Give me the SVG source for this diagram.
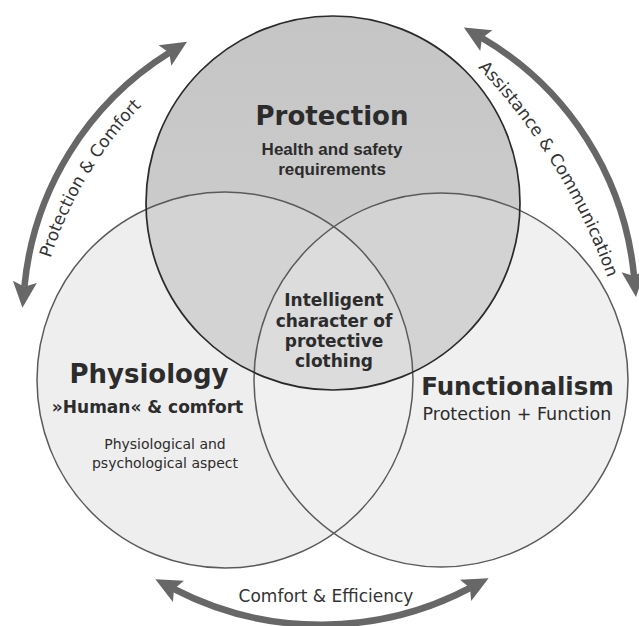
<svg xmlns="http://www.w3.org/2000/svg" width="639" height="626" viewBox="0 0 639 626">
<defs>
<linearGradient id="gTop" x1="0" y1="0" x2="0" y2="1"><stop offset="0" stop-color="#c5c5c5"/><stop offset="1" stop-color="#d0d0d0"/></linearGradient>
<clipPath id="cL"><circle cx="225" cy="380" r="188"/></clipPath>
<clipPath id="cR"><circle cx="441" cy="380" r="187"/></clipPath>
<clipPath id="cT"><circle cx="333" cy="203" r="187"/></clipPath>
<marker id="ah" markerUnits="userSpaceOnUse" markerWidth="30" markerHeight="26" refX="5" refY="12" orient="auto-start-reverse" overflow="visible"><path d="M0,0 L26,12 L0,24 L5,12 Z" fill="#676767"/></marker>
<path id="tpL" d="M35,334 A383,383 0 0 1 201,56.2"/>
<path id="tpR" d="M413.3,8.2 A608,608 0 0 1 631.5,362.2"/>
</defs>
<style>
.arrow{fill:none;stroke:#676767;stroke-width:6.5;marker-start:url(#ah);marker-end:url(#ah)}
.t{font-family:"DejaVu Sans",Verdana,sans-serif;fill:#2c2c2c;text-anchor:middle}
.a{font-family:"Liberation Sans",Arial,sans-serif;fill:#2c2c2c;text-anchor:middle;font-weight:bold}
.b{font-weight:bold}
.ring{fill:none;stroke:#5a5a5a;stroke-width:1.5}
.lbl{font-family:"DejaVu Sans",Verdana,sans-serif;fill:#333;font-size:17px}
</style>
<rect width="639" height="626" fill="#ffffff"/>

<g id="physiology">
<circle cx="225" cy="380" r="188" fill="#eeeeee" stroke="#5a5a5a" stroke-width="1.5"/>
<text class="t b" x="149" y="383" font-size="26">Physiology</text>
<text class="t b" x="147.5" y="413" font-size="17">»Human« &amp; comfort</text>
<text class="t" x="165" y="449" font-size="14">Physiological and</text>
<text class="t" x="165" y="468" font-size="14">psychological aspect</text>
</g>

<g id="functionalism">
<circle cx="441" cy="380" r="187" fill="#f0f0f0" stroke="#5a5a5a" stroke-width="1.5"/>
<circle class="ring" cx="225" cy="380" r="188" clip-path="url(#cR)"/>
<text class="t b" x="517.5" y="395" font-size="24.5">Functionalism</text>
<text class="t" x="517" y="420" font-size="17.5">Protection + Function</text>
</g>

<g id="protection">
<circle cx="333" cy="203" r="187" fill="url(#gTop)"/>
<g clip-path="url(#cT)">
<circle cx="225" cy="380" r="188" fill="#d3d3d3"/>
<circle cx="441" cy="380" r="187" fill="#d3d3d3"/>
<g clip-path="url(#cL)"><circle cx="441" cy="380" r="187" fill="#dcdcdc"/></g>
<circle class="ring" cx="225" cy="380" r="188" stroke="#3c3c3c"/>
<circle class="ring" cx="441" cy="380" r="187" stroke="#3c3c3c"/>
</g>
<circle cx="333" cy="203" r="187" fill="none" stroke="#2a2a2a" stroke-width="1.7"/>
<text class="t b" x="332" y="125" font-size="26">Protection</text>
<text class="a" x="332" y="155" font-size="17">Health and safety</text>
<text class="a" x="332" y="175" font-size="17">requirements</text>
</g>

<g id="intelligent-character">
<text class="t b" x="334" y="306" font-size="17" fill="#3a3a3a">Intelligent</text>
<text class="t b" x="334" y="326.5" font-size="17" fill="#3a3a3a">character of</text>
<text class="t b" x="334" y="347" font-size="17" fill="#3a3a3a">protective</text>
<text class="t b" x="334" y="367" font-size="17" fill="#3a3a3a">clothing</text>
</g>

<g id="connectors">
<path class="arrow" d="M24.4,286.8 A310,310 0 0 1 169.2,52.8"/>
<path class="arrow" d="M482,38 A310,310 0 0 1 634,276"/>
<path class="arrow" d="M174,589 A320,320 0 0 0 470,588"/>
<text class="lbl" text-anchor="middle"><textPath href="#tpL" startOffset="50%">Protection &amp; Comfort</textPath></text>
<text class="lbl" text-anchor="middle"><textPath href="#tpR" startOffset="50%">Assistance &amp; Communication</textPath></text>
<text class="lbl" x="326" y="602" text-anchor="middle">Comfort &amp; Efficiency</text>
</g>
</svg>
